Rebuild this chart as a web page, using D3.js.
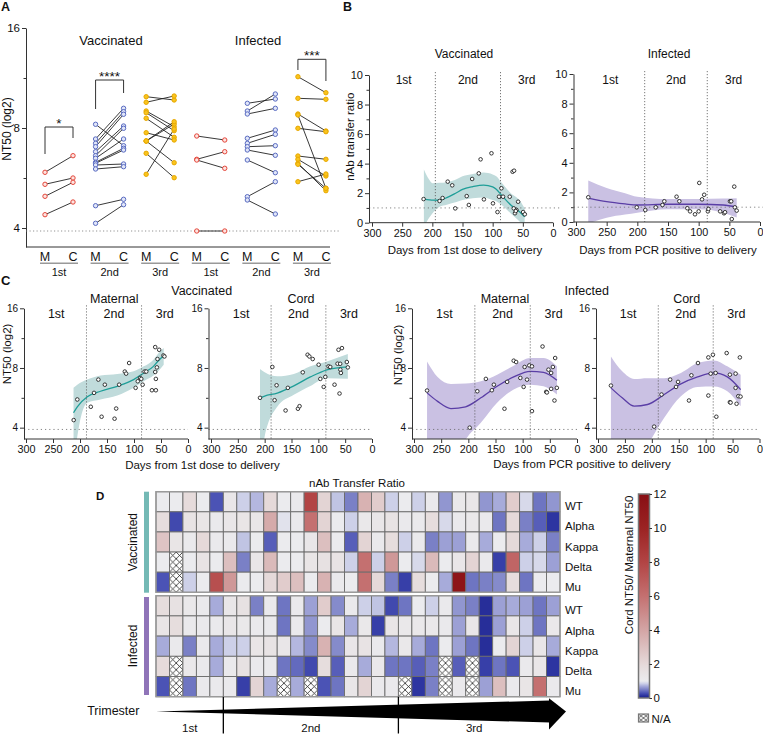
<!DOCTYPE html>
<html><head><meta charset="utf-8">
<script src="https://cdn.jsdelivr.net/npm/d3@7/dist/d3.min.js"></script>
<style>body{margin:0;background:#fff}svg{display:block}</style>
</head><body><svg id="chart" width="763" height="735"></svg>
<script>
// ================= DATA =================
// Panel A : paired [maternal, cord] NT50 values (log2 units)
const A_GROUP_LABELS = ["1st","2nd","3rd","1st","2nd","3rd"];
const A_COHORTS = ["Vaccinated","Infected"];
const A_SUB = ["M","C"];
const A_TICKS = [2,3,4];
const A_MINOR = [2.5,3.5];
const LOD = 1.97;
const A_VAX_1ST = [[2.557,2.723],[2.437,2.50],[2.317,2.457],[2.133,2.26]];
const A_VAX_2ND = [[3.037,2.823],[2.89,3.197],[2.847,3.163],[2.813,3.137],[2.763,3.02],[2.723,2.997],[2.697,2.89],[2.657,2.797],[2.647,2.78],[2.63,2.64],[2.59,2.613],[2.223,2.287],[2.047,2.233]];
const A_VAX_3RD = [[3.313,3.28],[3.257,3.32],[3.17,3.013],[3.153,2.973],[3.097,2.907],[2.953,2.88],[2.87,3.04],[2.87,3.063],[2.87,2.653],[2.747,2.503],[2.537,2.99]];
const A_INF_1ST = [[2.92,2.88],[2.687,2.763],[2.68,2.597],[1.97,1.97]];
const A_INF_2ND = [[3.247,3.29],[3.17,3.34],[3.14,3.197],[2.897,2.98],[2.847,2.937],[2.813,2.823],[2.78,2.727],[2.68,2.553],[2.313,2.463],[2.28,2.14]];
const A_INF_3RD = [[3.513,3.353],[3.297,3.287],[3.14,2.97],[3.13,2.397],[2.997,2.963],[2.72,2.687],[2.687,2.52],[2.647,2.373],[2.637,2.397],[2.463,2.54]];
const A_SIG = [
  {group:0,label:"*",top:3.01,left:2.74,right:2.90},
  {group:1,label:"****",top:3.48,left:3.19,right:3.35},
  {group:5,label:"***",top:3.687,left:3.58,right:3.47}
];

// Panel B : [days, ratio] points and fit [days, fit, lower, upper]
const B_X_TICKS = [300,250,200,150,100,50,0];
const B_Y_TICKS = [0,2,4,6,8,10];
const B_Y_MINOR = [1,3,5,7,9];
const TRI_LABELS = ["1st","2nd","3rd"];
const B_VAX_PTS = [[214.5,1.6],[188,1.47],[183,1.67],[174.5,2.78],[167,2.53],[162,0.97],[143,1.8],[139.5,1.2],[134,2.96],[123,3.34],[120,4.29],[114.5,1.58],[102,4.7],[99.5,1.31],[92,0.72],[89.5,1.76],[85.5,2.33],[82.8,1.76],[71.7,1.76],[67,3.45],[64.5,3.52],[65,0.97],[63,0.64],[60.5,0.86],[61.7,0.79],[57.8,1.42],[49.5,0.72],[46.7,0.57]];
const B_VAX_FIT = [[214,1.6,-0.3,3.6],[205,1.55,0.35,2.9],[200,1.53,0.63,2.67],[188,1.52,1.08,2.7],[176,1.7,1.22,2.74],[160,2.03,1.4,2.95],[150,2.25,1.53,3.14],[133,2.44,1.65,3.3],[115,2.55,1.7,3.4],[100,2.42,1.53,3.27],[94,2.26,1.45,3.15],[85,1.85,1.2,2.7],[70,1.2,0.63,2.0],[55,0.72,0.07,1.5],[47,0.4,-0.3,0.97]];
const B_INF_PTS = [[280,1.67],[201,0.99],[187,0.81],[170,0.99],[159,1.15],[156,1.40],[136,1.71],[131.5,1.40],[118.5,0.93],[114,0.72],[106,0.52],[100,0.72],[99,2.64],[94.5,1.53],[91,1.84],[85,0.72],[84,0.88],[65,0.72],[58.7,0.59],[57,0.66],[49,1.40],[47,1.40],[46,0.2],[42,2.39],[41,0.99],[38,0.77]];
const B_INF_FIT = [[280,1.62,-0.1,2.8],[250,1.37,0.29,2.3],[220,1.22,0.5,1.95],[200,1.15,0.63,1.71],[150,1.2,0.86,1.55],[100,1.2,0.86,1.55],[60,1.15,0.63,1.58],[38,1.0,0.3,1.6]];
const B_VAX_TRIM = [195,87];
const B_INF_TRIM = [188,86];

// Panel C : [days, NT50 log2] points and fit [days, fit, lower, upper]
const C_Y_TICKS = [2,3,4];
const C_Y_MINOR = [2.5,3.5];
const C_TRIM = [188,86];
const C_VM_PTS = [[211.7,2.127],[205,2.472],[180,2.35],[174,2.583],[166,2.805],[160,2.183],[154,2.72],[136,2.15],[133,2.32],[127.5,2.72],[117,2.94],[114.6,2.905],[109,3.083],[97,2.667],[93,2.777],[88.9,2.833],[86.5,2.817],[84,2.72],[80.4,2.94],[77.3,2.94],[66.8,2.627],[59.5,2.627],[60.7,3.35],[59.5,2.817],[60.7,2.933],[57.6,3.01],[56.5,3.15],[53.4,3.305],[45.5,3.21],[43.6,3.193]];
const C_VM_FIT = [[212,2.25,1.2,2.667],[205,2.35,1.85,2.72],[186.5,2.517,2.417,2.805],[162,2.61,2.472,2.872],[131,2.693,2.538,2.9],[100.7,2.805,2.667,2.944],[82,2.917,2.777,3.027],[64,3.027,2.872,3.14],[57,3.1,2.93,3.222],[45,3.21,3.055,3.333]];
const C_VC_PTS = [[208.7,2.5],[185.7,3.017],[181.5,2.46],[177.8,2.71],[161,2.288],[156.8,2.667],[138,2.317],[135,2.36],[129,2.927],[120,3.222],[116.7,3.193],[110.5,3.15],[99.4,3.055],[96.3,2.817],[90,2.683],[87,2.85],[81,3.027],[77.8,3.017],[69.8,2.72],[64.2,3.072],[62.4,3.305],[60.5,2.572],[59,2.972],[58,2.917],[56,3.333],[59.3,3.07],[46.9,3.1],[45,3.01]];
const C_VC_FIT = [[208.7,2.5,1.2,2.983],[200,2.53,1.85,2.93],[176.5,2.58,2.35,2.86],[145.7,2.7,2.55,2.9],[114.8,2.85,2.7,3.03],[84,2.97,2.83,3.11],[45,3.02,2.82,3.233]];
const C_IM_PTS = [[276,2.622],[197.5,2.0],[183.5,2.61],[167.7,2.817],[156.7,2.627],[153,2.72],[133.5,2.317],[128.6,2.767],[116.5,3.122],[112,3.1],[104.3,2.833],[98.2,2.683],[96.4,3.017],[92,2.805],[87.8,3.043],[82.9,3.027],[82.9,2.277],[63.4,3.36],[56.7,2.6],[55.4,2.59],[52.5,2.972],[47.6,2.917],[47.6,2.65],[44.4,3.017],[41.5,2.455],[40.2,3.167],[37.1,2.667]];
const C_IM_FIT = [[276,2.583,0.8,3.11],[256.6,2.44,1.0,2.85],[232,2.32,1.3,2.733],[205,2.35,1.8,2.74],[177,2.5,2.083,2.777],[147,2.693,2.417,2.888],[116.5,2.85,2.638,3.038],[86,2.944,2.72,3.167],[61.6,2.927,2.693,3.167],[37,2.793,2.555,3.027]];
const C_IC_PTS = [[276,2.705],[195.7,2.017],[182,2.555],[166,2.805],[155,2.683],[151.3,2.767],[131,2.455],[126.5,2.877],[114.3,3.083],[95,3.177],[95,2.538],[90.7,2.905],[86.5,3.222],[81.5,2.917],[80.2,2.183],[61,3.25],[55,2.888],[55,2.427],[53.7,2.42],[44.4,2.905],[44.4,2.667],[42.6,2.4],[39.4,2.527],[36.5,3.177],[35.2,2.52]];
const C_IC_FIT = [[276,2.667,0.8,3.193],[255,2.5,1.0,2.944],[232.7,2.36,1.3,2.817],[208,2.388,1.7,2.83],[177,2.555,2.167,2.83],[146,2.733,2.527,2.917],[115,2.85,2.683,3.083],[84.6,2.917,2.69,3.127],[59.8,2.85,2.61,3.027],[35,2.638,2.36,2.888]];

// Panel D : Cord/Maternal NT50 ratio per subject (null = N/A)
const D_VARIANTS = ["WT","Alpha","Kappa","Delta","Mu"];
const D_VAX = [
 [1.0,1.0,1.9,1.0,0.3,1.3,0.85,0.75,2.0,1.0,1.1,8.0,2.2,0.8,0.5,3.5,2.5,0.85,1.0,0.85,1.1,0.6,1.2,1.3,0.6,0.7,2.5,0.9,0.45,0.6],
 [1.8,0.25,1.5,1.4,1.1,1.3,1.4,1.3,3.8,0.95,1.1,6.0,2.2,1.0,0.85,1.2,1.3,1.5,1.1,1.1,1.8,0.9,1.1,1.2,1.1,0.45,2.0,0.5,0.35,0.15],
 [2.8,1.4,1.1,2.0,1.1,1.1,0.8,1.0,0.35,1.0,1.0,1.3,3.0,1.0,0.35,2.2,1.1,1.8,0.85,1.1,0.5,0.65,0.65,1.1,0.7,1.0,2.0,0.7,0.85,0.5],
 [1.0,null,1.0,1.5,1.0,3.0,0.5,1.3,3.2,1.0,1.0,1.4,1.6,1.5,0.85,6.0,0.85,4.5,1.0,0.9,3.2,1.0,1.3,2.2,1.1,0.2,6.5,0.85,0.9,0.65],
 [0.3,null,0.85,1.0,7.5,4.5,1.0,1.0,2.0,2.5,3.0,1.0,3.5,1.1,1.0,6.0,2.0,0.5,0.2,1.8,1.0,0.7,11.5,0.45,0.5,0.55,1.8,0.45,1.0,1.0]
];
const D_INF = [
 [1.8,1.6,1.2,1.1,0.7,1.3,1.6,0.5,1.1,0.45,1.1,0.65,2.5,0.55,1.1,0.85,0.8,0.25,0.45,1.0,0.85,1.1,0.6,0.5,0.1,0.65,0.7,0.65,0.45,0.65],
 [1.4,1.8,1.1,1.1,1.1,1.3,1.2,1.1,1.1,0.45,1.1,0.6,1.0,1.4,0.7,1.2,0.2,1.4,1.2,1.2,1.2,1.1,0.65,1.3,0.1,0.65,1.3,0.85,0.45,1.2],
 [0.7,1.1,0.5,1.1,0.7,0.85,0.85,1.4,1.5,1.3,0.75,0.55,3.5,0.55,1.3,1.5,1.1,0.75,1.2,0.7,0.45,1.0,0.65,0.45,0.1,1.0,2.2,0.85,1.3,0.7],
 [1.9,null,1.2,1.1,0.7,1.1,1.6,1.1,1.1,0.45,0.4,0.25,1.8,0.35,1.1,0.7,1.2,0.45,0.45,0.35,0.5,null,0.35,null,0.2,0.45,0.3,1.1,1.3,0.15],
 [0.3,null,0.45,1.1,1.1,1.1,0.2,2.2,0.7,null,0.7,null,0.3,0.45,1.3,2.2,1.1,1.1,null,0.15,0.5,null,1.1,null,0.65,3.0,1.1,1.4,6.0,1.1]
];
const D_TRIM_COLS = [5,18];
const CB_TICKS = [0,2,4,6,8,10,12];
const CB_STOPS = [0,0.15,0.3,0.5,0.7,0.85,1,1.5,2,3,4,6,8,10,12];
const CB_COLORS = ["#1b1f8a","#2d35a1","#4b53b5","#7a80c6","#a7abda","#cdd0e8","#ebebee","#e8e3e4","#e5d9d9","#dcbfbf","#d3a5a5","#c47070","#b24444","#9b2323","#880f14"];

// ================= DRAW =================
const F = '"Liberation Sans", Arial, Helvetica, sans-serif';
const svg = d3.select("#chart");
svg.append("rect").attr("width",763).attr("height",735).attr("fill","#fff");
const defs = svg.append("defs");

function T(x,y,s,size,o={}){
  const t = svg.append("text").attr("x",x).attr("y",y).text(s)
    .attr("font-size",size).attr("text-anchor",o.anchor||"middle")
    .attr("font-family",F).attr("fill",o.fill||"#111");
  if(o.bold) t.attr("font-weight","bold");
  if(o.rot) t.attr("transform",`rotate(${o.rot},${x},${y})`);
  if(o.mid) t.attr("dominant-baseline","central");
  return t;
}
function styleAxis(g,size){
  g.selectAll("text").attr("font-family",F).attr("font-size",size).attr("fill","#111");
  g.selectAll("line").attr("stroke","#333");
  g.selectAll("path").attr("stroke","#333");
}

// panel letters
T(1,11,"A",12.5,{anchor:"start",bold:1});
T(343,11,"B",12.5,{anchor:"start",bold:1});
T(1,284.5,"C",13,{anchor:"start",bold:1});
T(96,499.5,"D",11.5,{anchor:"start",bold:1});

// ---------- Panel A ----------
(function(){
  const yA = d3.scaleLinear().domain([1.81,4]).range([247,28]);
  const xG = d3.scaleBand().domain(d3.range(6)).range([31.4,334.9]);
  const xS = d3.scalePoint().domain(A_SUB).range([13.6,41.6]);
  const xA = (g,s)=>xG(g)+xS(s);
  const data = [A_VAX_1ST,A_VAX_2ND,A_VAX_3RD,A_INF_1ST,A_INF_2ND,A_INF_3RD];
  const fills = ["#fde4e1","#e1e6f8","#f9c41e","#fde4e1","#e1e6f8","#f9c41e"];
  const strokes = ["#e5473b","#5a6cc2","#e8a800","#e5473b","#5a6cc2","#e8a800"];
  const ay = svg.append("g").attr("transform","translate(26,0)")
    .call(d3.axisLeft(yA).tickValues(A_TICKS).tickFormat(d=>2**d).tickSize(4).tickSizeOuter(0).tickPadding(2));
  styleAxis(ay,11.5);
  const am = svg.append("g").attr("transform","translate(26,0)")
    .call(d3.axisLeft(yA).tickValues(A_MINOR).tickFormat("").tickSize(2.5).tickSizeOuter(0));
  am.select(".domain").remove(); styleAxis(am,10);
  svg.append("line").attr("x1",26).attr("x2",330).attr("y1",247).attr("y2",247).attr("stroke","#333");
  svg.append("line").attr("x1",26).attr("x2",340).attr("y1",yA(LOD)).attr("y2",yA(LOD))
    .attr("stroke","#777").attr("stroke-width",0.8).attr("stroke-dasharray","1.2,2.3");
  T(7,129,"NT50 (log2)",12,{rot:-90,mid:1});
  T(111,44.6,A_COHORTS[0],13);
  T(258,44.6,A_COHORTS[1],13);
  data.forEach((pairs,g)=>{
    const xm=xA(g,"M"), xc=xA(g,"C");
    svg.append("g").selectAll("line").data(pairs).enter().append("line")
      .attr("x1",xm).attr("x2",xc).attr("y1",d=>yA(d[0])).attr("y2",d=>yA(d[1]))
      .attr("stroke","#222").attr("stroke-width",0.9);
    const pts = pairs.flatMap(d=>[[xm,d[0]],[xc,d[1]]]);
    svg.append("g").selectAll("circle").data(pts).enter().append("circle")
      .attr("cx",d=>d[0]).attr("cy",d=>yA(d[1])).attr("r",2.2)
      .attr("fill",fills[g]).attr("stroke",strokes[g]).attr("stroke-width",1);
    T(xm,260.5,"M",12.5); T(xc,260.5,"C",12.5);
    svg.append("line").attr("x1",xm-5).attr("x2",xc+5).attr("y1",263.3).attr("y2",263.3)
      .attr("stroke","#999").attr("stroke-width",1.5);
    T((xm+xc)/2,275.5,A_GROUP_LABELS[g],11);
  });
  A_SIG.forEach(s=>{
    const xm=xA(s.group,"M"), xc=xA(s.group,"C");
    svg.append("path").attr("d",`M${xm},${yA(s.left)}V${yA(s.top)}H${xc}V${yA(s.right)}`)
      .attr("fill","none").attr("stroke","#333").attr("stroke-width",1);
    T((xm+xc)/2, yA(s.top)+0.5, s.label, 13.5);
  });
})();

// ---------- generic trend panel (B and C) ----------
let clipN=0;
function trend(cfg){
  const x = d3.scaleLinear().domain([300,0]).range([cfg.x300,cfg.x0]);
  const y = cfg.y;
  const [yb,yt] = y.range();
  const id = "clip"+(clipN++);
  defs.append("clipPath").attr("id",id).append("rect")
    .attr("x",cfg.ax).attr("y",yt).attr("width",cfg.x0+3-cfg.ax).attr("height",yb-yt);
  const g = svg.append("g").attr("clip-path",`url(#${id})`);
  g.append("path").datum(cfg.fit)
    .attr("d",d3.area().x(d=>x(d[0])).y0(d=>y(d[2])).y1(d=>y(d[3])).curve(d3.curveMonotoneX))
    .attr("fill",cfg.band);
  cfg.trim.forEach(d=>{
    svg.append("line").attr("x1",x(d)).attr("x2",x(d)).attr("y1",yt-3).attr("y2",yb)
      .attr("stroke","#555").attr("stroke-width",0.8).attr("stroke-dasharray","1.2,1.8");
  });
  svg.append("line").attr("x1",cfg.ax).attr("x2",cfg.refEnd).attr("y1",y(cfg.ref)).attr("y2",y(cfg.ref))
    .attr("stroke","#666").attr("stroke-width",0.8).attr("stroke-dasharray","1.2,3");
  g.append("path").datum(cfg.fit)
    .attr("d",d3.line().x(d=>x(d[0])).y(d=>y(d[1])).curve(d3.curveMonotoneX))
    .attr("fill","none").attr("stroke",cfg.line).attr("stroke-width",1.3);
  svg.append("g").selectAll("circle").data(cfg.pts).enter().append("circle")
    .attr("cx",d=>x(d[0])).attr("cy",d=>y(d[1])).attr("r",1.8)
    .attr("fill","#fff").attr("stroke","#222").attr("stroke-width",0.9);
  const bounds=[300,...cfg.trim,0];
  TRI_LABELS.forEach((s,i)=>T((x(bounds[i])+x(bounds[i+1]))/2, cfg.triY, s, cfg.triSize));
  const ya = svg.append("g").attr("transform",`translate(${cfg.ax},0)`)
    .call(d3.axisLeft(y).tickValues(cfg.yTicks).tickFormat(cfg.yFmt).tickSize(4).tickSizeOuter(0).tickPadding(2));
  styleAxis(ya,cfg.yTickSize);
  const ym = svg.append("g").attr("transform",`translate(${cfg.ax},0)`)
    .call(d3.axisLeft(y).tickValues(cfg.yMinor).tickFormat("").tickSize(2.5).tickSizeOuter(0));
  ym.select(".domain").remove(); styleAxis(ym,9);
  const xa = svg.append("g").attr("transform",`translate(0,${yb})`)
    .call(d3.axisBottom(x).tickValues(B_X_TICKS).tickSize(4).tickSizeOuter(0).tickPadding(2.5));
  xa.select(".domain").remove(); styleAxis(xa,10.8);
  svg.append("line").attr("x1",cfg.ax).attr("x2",cfg.x0).attr("y1",yb).attr("y2",yb).attr("stroke","#333");
}

// ---------- Panel B ----------
const TEAL="#1f9e98", TEAL_BAND="#c0dbdb", PURP="#5a3ea6", PURP_BAND="#cac1e3";
trend({x300:372,x0:553,ax:369,y:d3.scaleLinear().domain([0,10]).range([222.7,75]),
  pts:B_VAX_PTS,fit:B_VAX_FIT,line:TEAL,band:TEAL_BAND,trim:B_VAX_TRIM,ref:1,refEnd:560,
  triY:84,triSize:12,yTicks:B_Y_TICKS,yMinor:B_Y_MINOR,yFmt:d=>d,yTickSize:11});
trend({x300:576,x0:760,ax:573.5,y:d3.scaleLinear().domain([0,10]).range([222,74]),
  pts:B_INF_PTS,fit:B_INF_FIT,line:PURP,band:PURP_BAND,trim:B_INF_TRIM,ref:1,refEnd:763,
  triY:84,triSize:12,yTicks:B_Y_TICKS,yMinor:B_Y_MINOR,yFmt:d=>d,yTickSize:11});
T(464,57.5,"Vaccinated",12);
T(669,57.5,"Infected",12);
T(350,136.7,"nAb transfer ratio",11.5,{rot:-90,mid:1});
T(465,254,"Days from 1st dose to delivery",11.5);
T(668,254,"Days from PCR positive to delivery",11.5);

// ---------- Panel C ----------
const yC = ()=>d3.scaleLinear().domain([1.81,4]).range([439,308.3]);
const cfmt = d=>2**d;
[
  {x300:26,x0:188,ax:24,pts:C_VM_PTS,fit:C_VM_FIT,line:TEAL,band:TEAL_BAND},
  {x300:211,x0:372,ax:208.5,pts:C_VC_PTS,fit:C_VC_FIT,line:TEAL,band:TEAL_BAND},
  {x300:414,x0:577,ax:412,pts:C_IM_PTS,fit:C_IM_FIT,line:PURP,band:PURP_BAND},
  {x300:598,x0:759.5,ax:596,pts:C_IC_PTS,fit:C_IC_FIT,line:PURP,band:PURP_BAND}
].forEach(c=>trend(Object.assign(c,{y:yC(),trim:C_TRIM,ref:LOD,refEnd:c.x0,
  triY:317.5,triSize:12.5,yTicks:C_Y_TICKS,yMinor:C_Y_MINOR,yFmt:cfmt,yTickSize:10})));
T(201.7,295,"Vaccinated",12.5);
T(586.7,295,"Infected",12.5);
T(114.3,302.5,"Maternal",12.5);
T(301,302.5,"Cord",12.5);
T(505,303,"Maternal",12.5);
T(686.7,303,"Cord",12.5);
T(6.5,354,"NT50 (log2)",11.5,{rot:-90,mid:1});
T(397.5,355,"NT50 (log2)",11.5,{rot:-90,mid:1});
T(202.5,469,"Days from 1st dose to delivery",11.5);
T(582,468,"Days from PCR positive to delivery",11.5);

// ---------- Panel D ----------
const colorD = d3.scaleLinear().domain(CB_STOPS).range(CB_COLORS).clamp(true);
const pat = defs.append("pattern").attr("id","hatch").attr("patternUnits","objectBoundingBox")
  .attr("width",0.5).attr("height",1/3);
pat.append("rect").attr("width",6.74).attr("height",6.71).attr("fill","#fff");
pat.append("path").attr("d","M0,0L6.74,6.71M6.74,0L0,6.71").attr("stroke","#222").attr("stroke-width",0.8);
const pat2 = defs.append("pattern").attr("id","hatch2").attr("patternUnits","userSpaceOnUse")
  .attr("x",638.5).attr("y",714).attr("width",5).attr("height",4);
pat2.append("rect").attr("width",5).attr("height",4).attr("fill","#fff");
pat2.append("path").attr("d","M0,0L5,4M5,0L0,4").attr("stroke","#222").attr("stroke-width",0.7);

const xD = d3.scaleBand().domain(d3.range(30)).range([156,560]);
T(357,487,"nAb Transfer Ratio",11.5);
[
  {name:"Vaccinated",data:D_VAX,y0:491.7,y1:592.3,bar:[491.7,592.7],color:"#74b9b5"},
  {name:"Infected",data:D_INF,y0:595.7,y1:696.7,bar:[597,695],color:"#8f74b8"}
].forEach(b=>{
  const yD = d3.scaleBand().domain(D_VARIANTS).range([b.y0,b.y1]);
  const cells = b.data.flatMap((row,i)=>row.map((v,j)=>({v,j,r:D_VARIANTS[i]})));
  svg.append("g").selectAll("rect").data(cells).enter().append("rect")
    .attr("x",d=>xD(d.j)).attr("y",d=>yD(d.r))
    .attr("width",xD.bandwidth()).attr("height",yD.bandwidth())
    .attr("fill",d=>d.v==null?"url(#hatch)":colorD(d.v))
    .attr("stroke","#6b6b6b").attr("stroke-width",0.9);
  svg.append("rect").attr("x",156).attr("y",b.y0).attr("width",404).attr("height",b.y1-b.y0)
    .attr("fill","none").attr("stroke","#9a9a9a").attr("stroke-width",1.4);
  svg.append("rect").attr("x",144).attr("y",b.bar[0]).attr("width",5).attr("height",b.bar[1]-b.bar[0]).attr("fill",b.color);
  T(133,(b.bar[0]+b.bar[1])/2,b.name,12,{rot:-90,mid:1});
  D_VARIANTS.forEach(v=>T(565,yD(v)+yD.bandwidth()/2+4.5,v,11.5,{anchor:"start",mid:1}));
});

// trimester arrow
const xArrowEnd = 550;
svg.append("path").attr("d",`M156,711.5L${xArrowEnd},700.5L${xArrowEnd},722.5Z`).attr("fill","#000");
svg.append("path").attr("d",`M${xArrowEnd-1},698.3L566,711.5L${xArrowEnd-1},729.5Z`).attr("fill","#000");
T(113.3,715,"Trimester",12.5);
const tb = [156, xD(D_TRIM_COLS[0]), xD(D_TRIM_COLS[1]), xArrowEnd];
[1,2].forEach(i=>svg.append("line").attr("x1",tb[i]).attr("x2",tb[i]).attr("y1",696.7).attr("y2",733.5)
  .attr("stroke","#000").attr("stroke-width",1.3));
TRI_LABELS.forEach((s,i)=>T((tb[i]+tb[i+1])/2,732,s,11.5));

// colorbar
const grad = defs.append("linearGradient").attr("id","cbg").attr("x1",0).attr("y1",1).attr("x2",0).attr("y2",0);
CB_STOPS.forEach((v,i)=>grad.append("stop").attr("offset",v/12).attr("stop-color",CB_COLORS[i]));
const yCB = d3.scaleLinear().domain([0,12]).range([698,494]);
svg.append("rect").attr("x",638.5).attr("y",494).attr("width",11).attr("height",204)
  .attr("fill","url(#cbg)").attr("stroke","#777").attr("stroke-width",1.5);
const cba = svg.append("g").attr("transform","translate(649.5,0)")
  .call(d3.axisRight(yCB).tickValues(CB_TICKS).tickSize(2.5).tickSizeOuter(0).tickPadding(1.5));
cba.select(".domain").remove(); styleAxis(cba,11.5);
T(628.5,565,"Cord NT50/ Maternal NT50",11.5,{rot:-90,mid:1});
svg.append("rect").attr("x",638.5).attr("y",714).attr("width",10).attr("height",8)
  .attr("fill","url(#hatch2)").attr("stroke","#777").attr("stroke-width",1.2);
T(651.5,718.5,"N/A",11.5,{anchor:"start",mid:1});
</script></body></html>
